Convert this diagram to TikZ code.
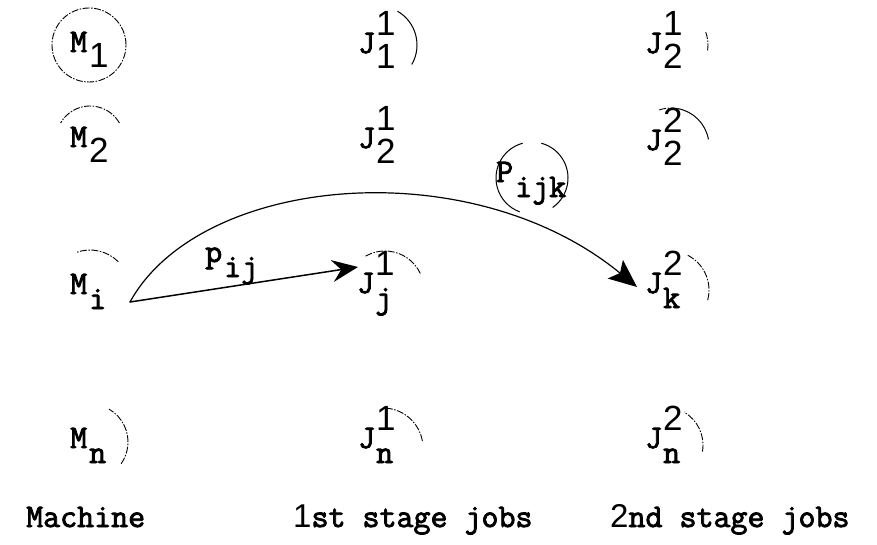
\documentclass[tikz,border=0pt]{standalone}
\usepackage{fontspec}
\setmonofont{Latin Modern Mono}[FakeBold=2.5]
\newfontfamily\dig{Liberation Sans}
\usetikzlibrary{arrows.meta}
\tikzset{
  lbl/.style={anchor=base west, inner sep=0pt, font=\ttfamily\fontsize{33}{33}\selectfont},
  ring/.style={line width=0.9pt, dash pattern=on 7pt off 1.5pt on 1.5pt off 1.5pt},
  solidring/.style={line width=1pt},
  link/.style={line width=1.5pt, line cap=round},
}
\newcommand\dg[1]{{\dig\fontsize{35}{35}\selectfont #1}}
\newcommand\lo[1]{\kern2pt\raisebox{-15pt}{#1}}
\newcommand\hilo[2]{\kern1pt\rlap{\raisebox{18pt}{\dg{#1}}}\raisebox{-15pt}{#2}}
\newcommand\ringarc[6][ring]{\draw[#1] ([shift={(#5:#4)}]#2,#3) arc[start angle=#5,end angle=#6,radius=#4];}
\begin{document}
\begin{tikzpicture}[x=1pt,y=1pt]
\useasboundingbox (0,0) rectangle (877,-544);
% machines
\node[lbl] (m1) at (70,-52) {M\lo{\dg{1}}};
\node[lbl] (m2) at (70,-147) {M\lo{\dg{2}}};
\node[lbl] (mi) at (70,-294) {M\lo{i}};
\node[lbl] (mn) at (70,-448) {M\lo{n}};
% first stage jobs
\node[lbl] (a1) at (358,-53) {J\hilo{1}{\dg{1}}};
\node[lbl] (a2) at (358,-148) {J\hilo{1}{\dg{2}}};
\node[lbl] (aj) at (357,-293) {J\hilo{1}{j}};
\node[lbl] (an) at (358,-448) {J\hilo{1}{n}};
% second stage jobs
\node[lbl] (b1) at (645,-53) {J\hilo{1}{\dg{2}}};
\node[lbl] (b2) at (645,-150) {J\hilo{2}{\dg{2}}};
\node[lbl] (bk) at (645,-293) {J\hilo{2}{k}};
\node[lbl] (bn) at (645,-448) {J\hilo{2}{n}};
% edge labels
\node[lbl] (pij) at (205,-262) {p\lo{ij}};
\node[lbl] (pijk) at (496,-182) {P\lo{ijk}};
% column captions
\node[lbl] (c1) at (26,-527) {Machine};
\node[lbl] (c2) at (293,-527) {{\dig 1}st stage jobs};
\node[lbl] (c3) at (610,-527) {{\dig 2}nd stage jobs};
% rings
\draw[ring] (89,-45) circle[radius=37];
\ringarc{90}{-140}{34}{30}{150}
\ringarc{90}{-290}{40}{45}{110}
\ringarc{90}{-442}{38}{-35}{60}
\ringarc[solidring]{378}{-45}{39}{-30}{60}
\ringarc{385}{-290}{39}{25}{120}
\ringarc{383}{-448}{40}{10}{85}
\ringarc{670}{-45}{38}{-8}{22}
\ringarc[solidring]{671}{-146}{38}{10}{80}
\ringarc{671}{-146}{38}{80}{110}
\ringarc{670}{-290}{39}{-15}{65}
\ringarc{665}{-445}{38}{-10}{60}
\ringarc[solidring]{532}{-178}{36}{105}{250}
\ringarc[solidring]{532}{-178}{36}{-55}{75}
% connectors
\coordinate (src) at (130,-302);
\coordinate (tipj) at (358,-267);
\coordinate (tipk) at (637,-287);
\draw[link, -{Stealth[length=26pt,width=22pt,inset=9pt]}] (src) -- (tipj);
\draw[link, line width=1.2pt, -{Stealth[length=28pt,width=24pt,inset=6pt]}] (src) .. controls (200,-175) and (470,-150) .. (tipk);
\end{tikzpicture}
\end{document}
